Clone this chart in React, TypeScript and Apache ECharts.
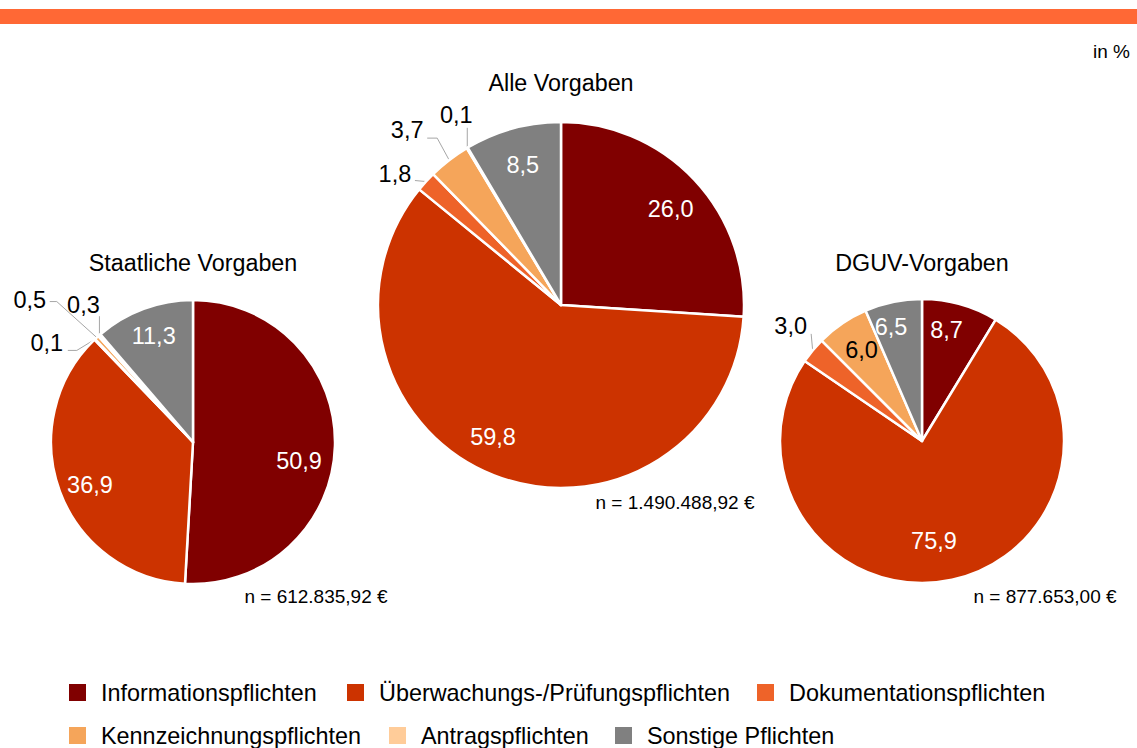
import React, { useEffect, useRef } from 'react';
import * as echarts from 'echarts';

const categories = [
  'Informationspflichten',
  'Überwachungs-/Prüfungspflichten',
  'Dokumentationspflichten',
  'Kennzeichnungspflichten',
  'Antragspflichten',
  'Sonstige Pflichten',
];
const colors = ['#800000', '#CC3300', '#EE6329', '#F5A55A', '#FFCC99', '#808080'];
const insideTextColors = ['#FFFFFF', '#FFFFFF', '#FFFFFF', '#000000', '#000000', '#FFFFFF'];

const staatlichValues: (number | null)[] = [50.9, 36.9, 0.1, 0.5, 0.3, 11.3];
const alleValues: (number | null)[] = [26.0, 59.8, 1.8, 3.7, 0.1, 8.5];
const dguvValues: (number | null)[] = [8.7, 75.9, 3.0, 6.0, null, 6.5];

const pieTitles = ['Staatliche Vorgaben', 'Alle Vorgaben', 'DGUV-Vorgaben'];
const totals = ['n = 612.835,92 €', 'n = 1.490.488,92 €', 'n = 877.653,00 €'];
const unitLabel = 'in %';

const FONT = '"Liberation Sans", Arial, sans-serif';

// Outside-label placement, relative to the slice anchor that ECharts computes:
// label centre offset and leader-line points (anchor is always first).
type Callout = { label: [number, number]; line: [number, number][] };
const callouts: Record<string, Callout> = {
  '0-2': { label: [-48, 4], line: [[-18, 11], [-27, 11]] },
  '0-3': { label: [-67, -38], line: [[-40, -36], [-47, -36]] },
  '0-4': { label: [-16, -30], line: [[0, -19]] },
  '1-2': { label: [-31, -8], line: [[-11, -1]] },
  '1-3': { label: [-42, -30], line: [[-12, -22], [-22, -22]] },
  '1-4': { label: [-11, -33], line: [[0, -20]] },
  '2-2': { label: [-22, -24], line: [[-1.5, -16.5]] },
};
// Small nudges of inside labels (best-fit placement of the original)
const insideNudges: Record<string, [number, number]> = {
  '0-0': [-7, 16],
  '0-1': [3, 4],
  '1-0': [4, 3],
  '1-1': [-15, -3],
  '2-0': [-6, -2],
  '2-1': [-12, -10],
  '2-3': [3, 3],
  '2-5': [-8, -3],
};

const pies = [
  { values: staatlichValues, center: [193, 442], r: 142, title: pieTitles[0], titlePos: [193, 263], total: totals[0], totalPos: [316, 596] },
  { values: alleValues, center: [561, 305], r: 183, title: pieTitles[1], titlePos: [561, 83], total: totals[1], totalPos: [675, 502] },
  { values: dguvValues, center: [922, 441], r: 142, title: pieTitles[2], titlePos: [922, 263], total: totals[2], totalPos: [1045, 596] },
];

const legendPos = [
  [67, 681], [345, 681], [755, 681],
  [67, 724], [387, 724], [613, 724],
];

const fmt = (v: number) => v.toFixed(1).replace('.', ',');

export default function App() {
  const ref = useRef<HTMLDivElement>(null);
  useEffect(() => {
    if (!ref.current) return;
    const chart = echarts.init(ref.current, undefined, { renderer: 'svg' });
    const series: any[] = [];
    pies.forEach((p, pi) => {
      const items = categories
        .map((name, i) => ({ name, value: p.values[i], i }))
        .filter((d) => d.value !== null && d.value !== undefined);
      series.push({
        type: 'pie',
        name: p.title + '-base',
        center: p.center,
        radius: [0, p.r],
        startAngle: 90,
        clockwise: true,
        silent: true,
        label: { show: false },
        labelLine: { show: false },
        itemStyle: { borderColor: '#FFFFFF', borderWidth: 2.5 },
        data: items.map((d) => ({ name: d.name, value: d.value, itemStyle: { color: colors[d.i] } })),
      });
      series.push({
        type: 'pie',
        name: p.title + '-labels',
        center: p.center,
        radius: [p.r * 0.55, p.r],
        startAngle: 90,
        clockwise: true,
        silent: true,
        avoidLabelOverlap: false,
        itemStyle: { color: 'rgba(0,0,0,0)', borderWidth: 0 },
        labelLayout: (params: any) => {
          const d = items[params.dataIndex];
          if (!d) return {};
          const key = `${pi}-${d.i}`;
          const nudge = insideNudges[key];
          if (nudge) return { dx: nudge[0], dy: nudge[1] };
          const c = callouts[key];
          const pts = params.labelLinePoints;
          if (!c || !pts || !pts.length) return {};
          const [ax, ay] = pts[0];
          return {
            x: ax + c.label[0],
            y: ay + c.label[1],
            align: 'center',
            verticalAlign: 'middle',
            labelLinePoints: [[ax, ay], ...c.line.map(([lx, ly]) => [ax + lx, ay + ly])],
          };
        },
        data: items.map((d) => {
          const inside = (d.value as number) >= 5;
          return {
            name: d.name,
            value: d.value,
            label: {
              show: true,
              position: inside ? 'inside' : 'outside',
              formatter: fmt(d.value as number),
              color: inside ? insideTextColors[d.i] : '#000000',
              fontSize: 23.5,
              fontFamily: FONT,
              overflow: 'none',
            },
            labelLine: {
              show: !inside,
              length: 14,
              length2: 12,
              lineStyle: { color: '#A6A6A6', width: 1 },
            },
          };
        }),
      });
    });

    const graphic: any[] = [
      { type: 'rect', shape: { x: 0, y: 9, width: 1137, height: 15 }, style: { fill: '#FF6835' } },
      { type: 'text', x: 1130, y: 51, style: { text: unitLabel, font: `19px ${FONT}`, fill: '#000', textAlign: 'right', textVerticalAlign: 'middle' } },
    ];
    pies.forEach((p) => {
      graphic.push({ type: 'text', x: p.titlePos[0], y: p.titlePos[1], style: { text: p.title, font: `23.3px ${FONT}`, fill: '#000', textAlign: 'center', textVerticalAlign: 'middle' } });
      graphic.push({ type: 'text', x: p.totalPos[0], y: p.totalPos[1], style: { text: p.total, font: `19px ${FONT}`, fill: '#000', textAlign: 'center', textVerticalAlign: 'middle' } });
    });

    const legend = categories.map((name, i) => ({
      data: [{ name, itemStyle: { color: colors[i] } }],
      left: legendPos[i][0],
      top: legendPos[i][1],
      padding: 0,
      itemWidth: 19,
      itemHeight: 19,
      selectedMode: false,
      icon: 'rect',
      textStyle: { fontSize: 23.4, fontFamily: FONT, color: '#000', padding: [0, 0, 0, 9] },
    }));

    chart.setOption({
      animation: false,
      backgroundColor: '#FFFFFF',
      legend,
      series,
      graphic,
    });
    return () => chart.dispose();
  }, []);
  return <div ref={ref} style={{ position: 'absolute', left: 0, top: 0, width: 1137, height: 748 }} />;
}
